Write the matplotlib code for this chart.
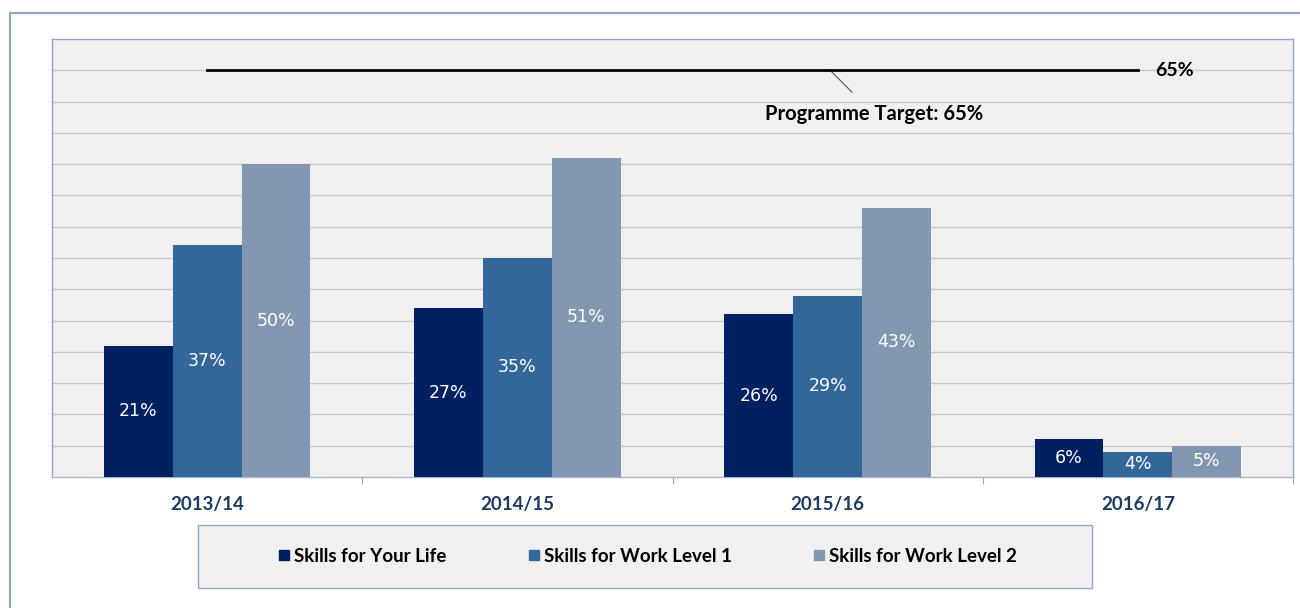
import matplotlib
matplotlib.use('Agg')
import matplotlib.pyplot as plt
from matplotlib.patches import Rectangle
from matplotlib.lines import Line2D
import numpy as np

years = ['2013/14', '2014/15', '2015/16', '2016/17']
skills_life = [21, 27, 26, 6]
work_l1 = [37, 35, 29, 4]
work_l2 = [50, 51, 43, 5]
series_names = ['Skills for Your Life', 'Skills for Work Level 1', 'Skills for Work Level 2']
target = 65

navy = '#002060'
mid = '#336699'
light = '#8497B0'
frame_col = '#8FA6C9'
W, H = 1300, 608

fig = plt.figure(figsize=(13, 6.08), dpi=100)
fig.patch.set_facecolor('white')

# outer chart border
fig.patches.append(Rectangle((10 / W, -0.05), 1.2, (608 - 13) / H + 0.05,
                             transform=fig.transFigure, fill=False,
                             edgecolor=frame_col, lw=1.5, zorder=0))

ax = fig.add_axes([52 / W, (H - 477) / H, 1241 / W, 438 / H])
ax.set_facecolor('#F0F0F0')

x = np.arange(len(years))
bw = 0.222
cols = [navy, mid, light]
for i, (vals, c) in enumerate(zip([skills_life, work_l1, work_l2], cols)):
    b = ax.bar(x + (i - 1) * bw, vals, bw, color=c, zorder=3)
    ax.bar_label(b, labels=[f'{v}%' for v in vals], label_type='center',
                 color='white', fontsize=12.5, family='DejaVu Sans')

# programme target line
ax.plot([x[0], x[-1]], [target, target], color='black', lw=2, zorder=4)
ax.text(3.055, target, f'{target}%', ha='left', va='center',
        fontsize=14, fontweight='bold', family='Lato', color='black')
ax.annotate(f'Programme Target: {target}%', xy=(2.008, target), xytext=(2.149, 58.0),
            ha='center', va='center', fontsize=14.5, fontweight='bold', family='Lato',
            arrowprops=dict(arrowstyle='-', color='#555555', lw=0.8,
                            shrinkA=9, shrinkB=0))

ax.set_xlim(-0.5, 3.5)
ax.set_ylim(0, 70)
ax.set_yticks(np.arange(5, 70, 5))
ax.yaxis.grid(True, color='#C8C8C8', lw=1, zorder=0)
ax.tick_params(axis='y', length=0, labelleft=False)

ax.set_xticks(x)
ax.set_xticklabels(years, fontsize=13.5, fontweight='bold', family='Lato', color='#1F3A60')
ax.set_xticks([0.5, 1.5, 2.5, 3.5], minor=True)
ax.tick_params(axis='x', which='major', length=0, pad=14)
ax.tick_params(axis='x', which='minor', length=5, color='#A0A8B8', width=0.8)

for s in ax.spines.values():
    s.set_color(frame_col)
    s.set_linewidth(1)
ax.spines['bottom'].set_color('#A8B4C8')

# legend box
fig.patches.append(Rectangle((198 / W, (H - 588) / H), 894 / W, 63 / H,
                             transform=fig.transFigure, facecolor='#F0F0F0',
                             edgecolor=frame_col, lw=1, zorder=1))
handles = [Line2D([], [], marker='s', ls='', color=c, markersize=7) for c in cols]
leg = fig.legend(handles, series_names, loc='center', ncol=3,
                 bbox_to_anchor=(648 / W, (H - 556) / H), frameon=False,
                 handlelength=0.5, handletextpad=0.3, columnspacing=4.4,
                 prop={'family': 'Lato', 'weight': 'bold', 'size': 13.5})
leg.set_zorder(2)

fig.savefig('out.png', dpi=100, facecolor='white')
